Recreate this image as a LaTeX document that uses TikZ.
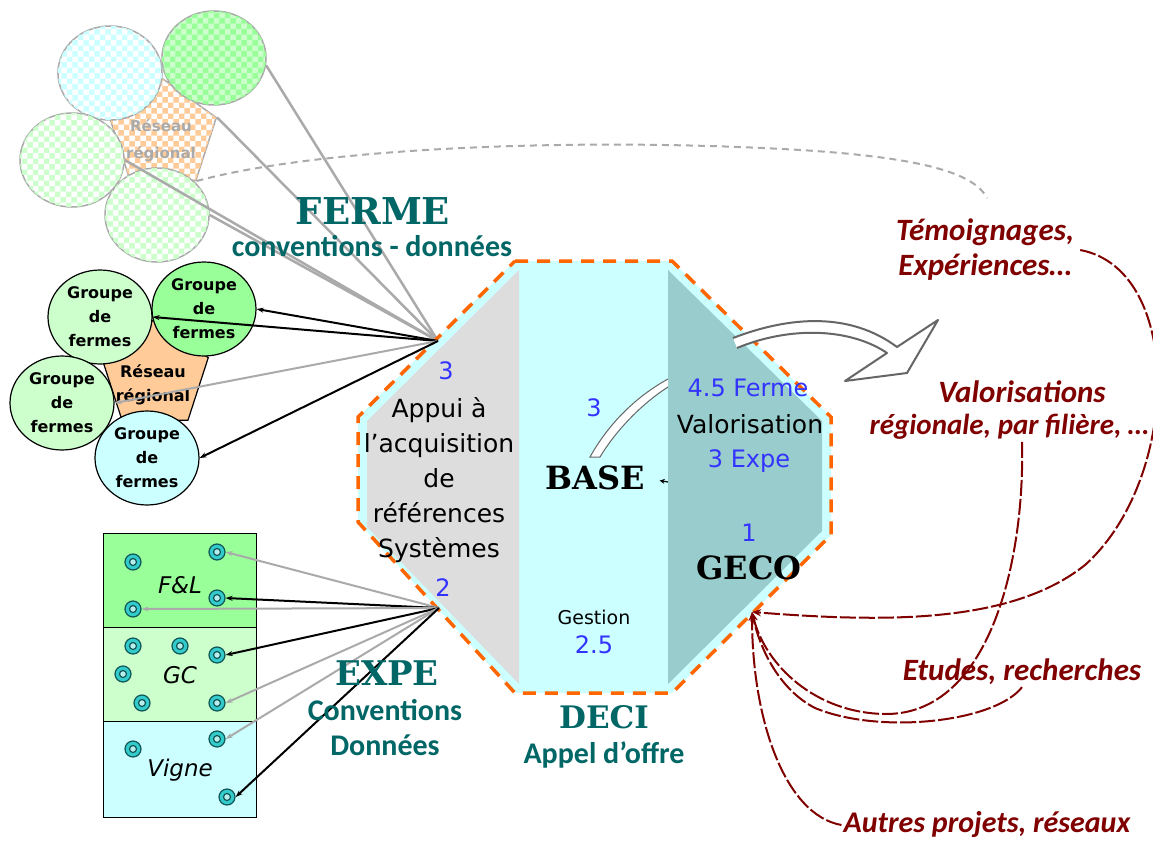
\documentclass[tikz,border=0pt]{standalone}
\usepackage{fontspec}
\setmainfont{DejaVu Sans}
\newfontfamily\calfont{Carlito}
\newfontfamily\decofont{DejaVu Serif}
\usetikzlibrary{calc}
\usetikzlibrary{positioning,shapes.geometric,arrows.meta,patterns}

\definecolor{TealTxt}{HTML}{006666}
\definecolor{BlueNum}{HTML}{3333FF}
\definecolor{DarkRed}{HTML}{800000}
\definecolor{OrangeB}{HTML}{FF6600}
\definecolor{CyanBg}{HTML}{CCFFFF}
\definecolor{GrayReg}{HTML}{DDDDDD}
\definecolor{TealReg}{HTML}{99CCCC}
\definecolor{FadeGray}{HTML}{AAAAAA}
\definecolor{LightGreen}{HTML}{CCFFCC}
\definecolor{MidGreen}{HTML}{99FF99}
\definecolor{PeachReg}{HTML}{FFCC99}
\definecolor{RingFill}{HTML}{33CCCC}
\definecolor{RingLine}{HTML}{115555}
\definecolor{ArrowGray}{HTML}{666666}

\begin{document}
\begin{tikzpicture}[x=1pt,y=-1pt,
        FadeCfg/.style={ellipse, draw=FadeGray, line width=1.5pt, minimum width=104pt, minimum height=94pt, inner sep=0pt},
        GroupCfg/.style={ellipse, draw, line width=1.2pt, minimum width=104pt, minimum height=94pt, inner sep=0pt,
            align=center, font=\bfseries\fontsize{16}{24}\selectfont},
        RegCfg/.style={regular polygon, regular polygon sides=5, minimum size=112pt, inner sep=0pt},
        RingCfg/.style={circle, draw=RingLine, fill=RingFill, line width=1.2pt, minimum size=16pt, inner sep=0pt,
            path picture={\draw[RingLine, line width=1.2pt, fill=RingFill!35!white] (path picture bounding box.center) circle (3.5pt);}},
        RowCfg/.style={rectangle, draw, line width=1.2pt, minimum width=153pt, minimum height=94pt, anchor=north west, inner sep=0pt},
        RowTxt/.style={inner sep=0pt, font=\itshape\fontsize{23}{23}\selectfont},
        FadeLine/.style={FadeGray, line width=2.5pt},
        BlackArr/.style={black, line width=2pt, -{Stealth[length=7pt,width=5pt]}},
        GrayArr/.style={FadeGray, line width=2pt, -{Stealth[length=7pt,width=5pt]}},
        RedArr/.style={DarkRed, line width=2pt, dash pattern=on 16pt off 3pt, -{Stealth[length=9pt,width=7pt]}},
        TxtCfg/.style={inner sep=0pt, align=center, font=\fontsize{25}{35}\selectfont},
        NumCfg/.style={inner sep=0pt, text=BlueNum, font=\fontsize{24}{30}\selectfont},
        DecoCfg/.style={inner sep=0pt, font=\decofont\bfseries\fontsize{#1}{#1}\selectfont},
        ConvCfg/.style={inner sep=0pt, align=center, text=TealTxt, font=\calfont\bfseries\fontsize{30}{35}\selectfont},
        RedCfg/.style={inner sep=2pt, align=center, text=DarkRed, font=\calfont\bfseries\itshape\fontsize{31}{35}\selectfont}
    ]
    \useasboundingbox[fill=white] (0,0) rectangle (1153,845);

    % hubs on the octagon border
    \coordinate (HubF) at (438,341);
    \coordinate (HubE) at (439,608);
    \coordinate (HubG) at (752,612);
    \coordinate (TemoEnd) at (987,198);
    \coordinate (BaseIn) at (668,482);

    % faded network (top left)
    \node[RegCfg, draw=FadeGray, line width=1.5pt, fill=white, postaction={pattern=checkerboard, pattern color=PeachReg}] (FadeRes) at (163,135) {};
    \node[FadeCfg, fill=white, postaction={pattern=checkerboard, pattern color=CyanBg}] (FadeA) at (110,73) {};
    \node[FadeCfg, fill=LightGreen, postaction={pattern=checkerboard, pattern color=MidGreen}] (FadeB) at (214,58) {};
    \node[FadeCfg, fill=white, postaction={pattern=checkerboard, pattern color=LightGreen}] (FadeC) at (72,160) {};
    \node[FadeCfg, fill=white, postaction={pattern=checkerboard, pattern color=LightGreen}] (FadeD) at (157,215) {};
    \node[inner sep=0pt, align=center, text=FadeGray, font=\bfseries\fontsize{15}{27}\selectfont] (FadeResTxt) at (161,141) {Réseau\\régional};
    \draw[FadeGray, line width=2pt, dash pattern=on 7pt off 5pt] (FadeRes.corner 4) .. controls (330,145) and (600,138) .. (800,150) .. controls (930,158) and (975,175) .. (TemoEnd);
    \draw[FadeLine] (FadeB.-8) -- (HubF);
    \draw[FadeLine] (FadeRes.corner 5) -- (HubF);
    \draw[FadeLine] (FadeC.east) -- (HubF);
    \draw[FadeLine] (FadeD.east) -- (HubF);

    % regional network (middle left)
    \node[RegCfg, draw, line width=1.2pt, fill=PeachReg] (ResReg) at (155,375) {};
    \node[GroupCfg, fill=LightGreen] (GrpA) at (100,317) {Groupe\\de\\fermes};
    \node[GroupCfg, fill=MidGreen] (GrpB) at (204,309) {Groupe\\de\\fermes};
    \node[GroupCfg, fill=LightGreen] (GrpC) at (62,403) {Groupe\\de\\fermes};
    \node[GroupCfg, fill=CyanBg] (GrpD) at (147,458) {Groupe\\de\\fermes};
    \node[inner sep=0pt, align=center, font=\bfseries\fontsize{16}{24}\selectfont] (ResRegTxt) at (153,385) {Réseau\\régional};

    % octagon
    \fill[CyanBg] (515,261) -- (672,261) -- (831,417) -- (831,535) -- (672,693) -- (515,693) -- (358,522) -- (358,417) -- cycle;
    \fill[GrayReg] (519,270) -- (519,684) -- (367,527) -- (367,421) -- cycle;
    \fill[TealReg] (668,270) -- (822,421) -- (822,531) -- (668,684) -- cycle;
    \draw[OrangeB, line width=3.5pt, dash pattern=on 13pt off 9pt] (515,261) -- (672,261) -- (831,417) -- (831,535) -- (672,693) -- (515,693) -- (358,522) -- (358,417) -- cycle;

    % FERME links
    \draw[BlackArr] (HubF) -- (GrpB.east);
    \draw[BlackArr] (HubF) -- (GrpA.east);
    \draw[GrayArr] (HubF) -- (GrpC.east);
    \draw[BlackArr] (HubF) -- (GrpD.east);
    \node[DecoCfg=37, text=TealTxt] (Ferme) at (373,211) {FERME};
    \node[ConvCfg] (ConvF) at (372,246) {conventions - données};

    % EXPE rows
    \node[RowCfg, fill=MidGreen] (RowFL) at (103,533) {};
    \node[RowCfg, fill=LightGreen] (RowGC) at (103,627) {};
    \node[RowCfg, fill=CyanBg, minimum height=96pt] (RowVi) at (103,721) {};
    \node[RowTxt] (FLTxt) at (180,585) {F\&L};
    \node[RowTxt] (GCTxt) at (180,675) {GC};
    \node[RowTxt] (ViTxt) at (180,770) {Vigne};
    \node[RingCfg] (F1) at (133,562) {};
    \node[RingCfg] (F2) at (217,552) {};
    \node[RingCfg] (F3) at (217,598) {};
    \node[RingCfg] (F4) at (133,609) {};
    \node[RingCfg] (G1) at (133,646) {};
    \node[RingCfg] (G2) at (180,646) {};
    \node[RingCfg] (G3) at (217,655) {};
    \node[RingCfg] (G4) at (123,674) {};
    \node[RingCfg] (G5) at (142,703) {};
    \node[RingCfg] (G6) at (217,703) {};
    \node[RingCfg] (V1) at (133,749) {};
    \node[RingCfg] (V2) at (217,739) {};
    \node[RingCfg] (V3) at (227,797) {};
    \draw[GrayArr] (HubE) -- (F2.east);
    \draw[BlackArr] (HubE) -- (F3.east);
    \draw[GrayArr] (HubE) -- (F4.east);
    \draw[BlackArr] (HubE) -- (G3.east);
    \draw[GrayArr] (HubE) -- (G6.east);
    \draw[GrayArr] (HubE) -- (V2.east);
    \draw[BlackArr] (HubE) -- (V3.east);
    \node[DecoCfg=34, text=TealTxt] (Expe) at (387,673) {EXPE};
    \node[ConvCfg] (ConvE) at (385,728) {Conventions\\Données};

    % texts of the octagon
    \node[NumCfg] (NumAppui) at (446,371) {3};
    \node[TxtCfg] (Appui) at (439,480) {Appui à\\l’acquisition\\de\\références\\Systèmes};
    \node[NumCfg] (NumSys) at (443,588) {2};
    \node[NumCfg] (NumBase) at (594,408) {3};
    \node[DecoCfg=32] (Base) at (595,478) {BASE};
    \node[TxtCfg, font=\fontsize{19}{24}\selectfont] (Gestion) at (594,617) {Gestion};
    \node[NumCfg] (NumGest) at (594,645) {2.5};
    \node[NumCfg] (ValFerme) at (748,388) {4.5 Ferme};
    \node[TxtCfg] (Valor) at (750,424) {Valorisation};
    \node[NumCfg] (ValExpe) at (749,461) {3 Expe};
    \node[NumCfg] (NumGeco) at (749,533) {1};
    \node[DecoCfg=32] (Geco) at (749,568) {GECO};
    \node[DecoCfg=31, text=TealTxt] (Deci) at (604,717) {DECI};
    \node[ConvCfg] (Appel) at (604,755) {Appel d’offre};
    \draw[black, line width=1.2pt, -{Stealth[length=5pt,width=5pt]}, shorten >=15pt] (BaseIn) -- (Base.east);

    % outlined arrow
    \fill[white] (590,457) .. controls (605,430) and (630,400) .. (668,379) -- (668,387) .. controls (640,405) and (615,432) .. (600,457) -- cycle;
    \draw[ArrowGray, line width=1pt] (668,379) .. controls (630,400) and (605,430) .. (590,457) -- (600,457) .. controls (615,432) and (640,405) .. (668,387);
    \fill[white] (733,338) .. controls (790,316) and (850,312) .. (897,347) -- (938,320) -- (907,373) -- (845,381) -- (887,353) .. controls (850,328) and (790,326) .. (737,348) -- cycle;
    \draw[ArrowGray, line width=2pt, line join=round] (733,338) .. controls (790,316) and (850,312) .. (897,347) -- (938,320) -- (907,373) -- (845,381) -- (887,353) .. controls (850,328) and (790,326) .. (737,348);

    % valorisation (right)
    \node[RedCfg] (Temo) at (985,250) {Témoignages,\\Expériences…};
    \node[RedCfg] (ValoA) at (1022,392) {Valorisations};
    \node[RedCfg, anchor=east, font=\calfont\bfseries\itshape\fontsize{29}{35}\selectfont] (ValoB) at (1151,427) {régionale, par filière, …};
    \node[RedCfg] (Etudes) at (1022,672) {Etudes, recherches};
    \node[RedCfg, font=\calfont\bfseries\itshape\fontsize{30}{35}\selectfont] (Autres) at (987,825) {Autres projets, réseaux};
    \draw[RedArr] ([xshift=4pt]Temo.east) .. controls (1185,270) and (1180,480) .. (1085,565) .. controls (1010,625) and (880,622) .. (HubG);
    \draw[RedArr] (ValoA |- ValoB.south) .. controls (1025,560) and (990,715) .. (885,714) .. controls (815,713) and (765,665) .. (HubG);
    \draw[RedArr] (Etudes.south) .. controls (995,722) and (880,735) .. (815,708) .. controls (780,690) and (760,650) .. (HubG);
    \draw[RedArr] (Autres.west) .. controls (785,815) and (752,720) .. (HubG);

\end{tikzpicture}
\end{document}
